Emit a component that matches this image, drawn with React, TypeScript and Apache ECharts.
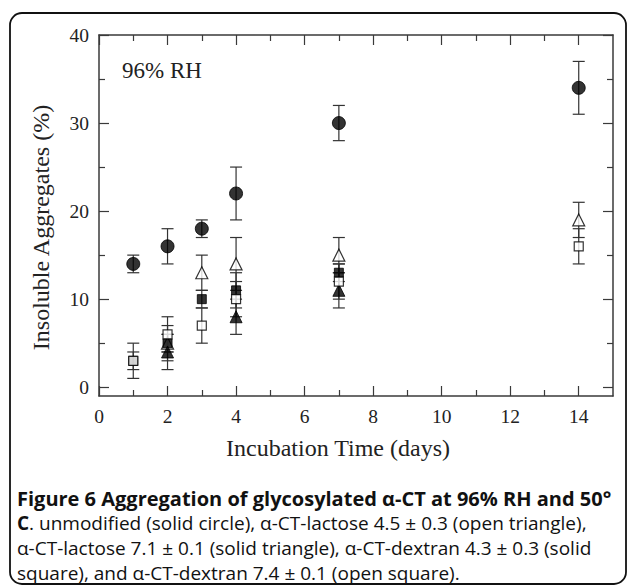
import React, { useEffect, useRef } from "react";
import * as echarts from "echarts";

// ---- data ----
const days = [1, 2, 3, 4, 7, 14];

const unmodified = [14, 16, 18, 22, 30, 34];
const unmodifiedErr = [1, 2, 1, 3, 2, 3];

const lactose45 = [null, 5, 13, 14, 15, 19];
const lactose45Err = [null, 2, 2, 3, 2, 2];

const lactose71 = [null, 4, null, 8, 11, null];
const lactose71Err = [null, 2, null, 2, 2, null];

const dextran43 = [3, 5, 10, 11, 13, null];
const dextran43Err = [1, 1, 1, 2, 1, null];

const dextran74 = [3, 6, 7, 10, 12, 16];
const dextran74Err = [2, 2, 2, 2, 2, 2];

const xMajorTicks = [0, 2, 4, 6, 8, 10, 12, 14];
const xMinorTicks = [1, 3, 5, 7, 9, 11, 13];
const yMajorTicks = [0, 10, 20, 30, 40];
const yMinorTicks = [5, 15, 25, 35];

const SERIF = "'Liberation Serif', 'Times New Roman', serif";
const SANS = "'Open Sans', 'Noto Sans', sans-serif";
const AX = "#3a3a3a";

type Sym = { name: string; vals: (number | null)[]; errs: (number | null)[]; symbol: string; size: number; filled: boolean };

const seriesDefs: Sym[] = [
  { name: "unmodified", vals: unmodified, errs: unmodifiedErr, symbol: "circle", size: 13, filled: true },
  { name: "α-CT-lactose 4.5", vals: lactose45, errs: lactose45Err, symbol: "triangle", size: 12, filled: false },
  { name: "α-CT-lactose 7.1", vals: lactose71, errs: lactose71Err, symbol: "triangle", size: 12, filled: true },
  { name: "α-CT-dextran 4.3", vals: dextran43, errs: dextran43Err, symbol: "rect", size: 9, filled: true },
  { name: "α-CT-dextran 7.4", vals: dextran74, errs: dextran74Err, symbol: "rect", size: 9, filled: false },
];

function errRender(params: any, api: any) {
  const x = api.value(0);
  const lo = api.value(1);
  const hi = api.value(2);
  const t = api.coord([x, hi]);
  const b = api.coord([x, lo]);
  const w = 6;
  const style = { stroke: "#333", lineWidth: 1.2 };
  return {
    type: "group",
    children: [
      { type: "line", shape: { x1: t[0], y1: t[1], x2: b[0], y2: b[1] }, style },
      { type: "line", shape: { x1: t[0] - w, y1: t[1], x2: t[0] + w, y2: t[1] }, style },
      { type: "line", shape: { x1: b[0] - w, y1: b[1], x2: b[0] + w, y2: b[1] }, style },
    ],
  };
}

function makeXAxis(position: string, ticks: number[], len: number, showLine: boolean, labels: boolean, name?: string) {
  return {
    type: "value",
    min: 0,
    max: 15,
    position,
    name: name || "",
    nameLocation: "middle",
    nameGap: 40,
    nameTextStyle: { fontFamily: SERIF, fontSize: 24, color: "#222", padding: [0, 36, 0, 0] },
    axisLine: { show: showLine, onZero: false, lineStyle: { color: AX, width: 1.5 } },
    axisTick: { show: true, inside: true, length: len, customValues: ticks, lineStyle: { color: AX, width: 1.2 } },
    axisLabel: labels
      ? { show: true, customValues: ticks, margin: 10, fontFamily: SERIF, fontSize: 19.5, color: "#222" }
      : { show: false },
    splitLine: { show: false },
  };
}

function makeYAxis(position: string, ticks: number[], len: number, showLine: boolean, labels: boolean, name?: string) {
  return {
    type: "value",
    min: -1,
    max: 40,
    position,
    name: name || "",
    nameLocation: "middle",
    nameGap: 46,
    nameTextStyle: { fontFamily: SERIF, fontSize: 24, color: "#222", padding: [0, 24, 0, 0] },
    axisLine: { show: showLine, onZero: false, lineStyle: { color: AX, width: 1.5 } },
    axisTick: { show: true, inside: true, length: len, customValues: ticks, lineStyle: { color: AX, width: 1.2 } },
    axisLabel: labels
      ? { show: true, customValues: ticks, margin: 10, fontFamily: SERIF, fontSize: 19.5, color: "#222" }
      : { show: false },
    splitLine: { show: false },
  };
}

export default function App() {
  const ref = useRef<HTMLDivElement>(null);
  useEffect(() => {
    if (!ref.current) return;
    const chart = echarts.init(ref.current, null, { renderer: "svg" });

    const series: any[] = [];
    seriesDefs.forEach((s) => {
      const errData: any[] = [];
      s.vals.forEach((v, i) => {
        const e = s.errs[i];
        if (v != null && e != null) errData.push([days[i], v - e, v + e]);
      });
      series.push({
        type: "custom",
        name: s.name + " error",
        renderItem: errRender,
        encode: { x: 0, y: [1, 2] },
        data: errData,
        z: 2,
        silent: true,
      });
    });
    seriesDefs.forEach((s) => {
      const pts: any[] = [];
      s.vals.forEach((v, i) => {
        if (v != null) pts.push([days[i], v]);
      });
      series.push({
        type: "scatter",
        name: s.name,
        data: pts,
        symbol: s.symbol,
        symbolSize: s.size,
        itemStyle: s.filled
          ? { color: "#000", borderColor: "#000", borderWidth: 1 }
          : { color: "#fff", borderColor: "#000", borderWidth: 1.2 },
        z: 5,
      });
    });

    chart.setOption({
      animation: false,
      backgroundColor: "#fff",
      grid: { left: 99, top: 35, right: 17, bottom: 192, containLabel: false },
      xAxis: [
        makeXAxis("bottom", xMajorTicks, 10, true, true, "Incubation Time (days)"),
        makeXAxis("bottom", xMinorTicks, 6, false, false),
        makeXAxis("top", xMajorTicks, 10, true, false),
        makeXAxis("top", xMinorTicks, 6, false, false),
      ],
      yAxis: [
        makeYAxis("left", yMajorTicks, 10, true, true, "Insoluble Aggregates (%)"),
        makeYAxis("left", yMinorTicks, 6, false, false),
        makeYAxis("right", yMajorTicks, 10, true, false),
        makeYAxis("right", yMinorTicks, 6, false, false),
      ],
      series,
      graphic: [
        {
          type: "rect",
          shape: { x: 10, y: 13, width: 616, height: 571, r: 12 },
          style: { fill: "none", stroke: "#111", lineWidth: 1.8 },
          silent: true,
        },
        {
          type: "text",
          left: 122,
          top: 59,
          style: { text: "96% RH", fontFamily: SERIF, fontSize: 23, fill: "#222" },
        },
        {
          type: "text",
          left: 17,
          top: 488,
          style: {
            text:
              "{t|Figure 6 Aggregation of glycosylated α-CT at 96% RH and 50°}\n" +
              "{b|C}{r|. unmodified (solid circle), α-CT-lactose 4.5 ± 0.3 (open triangle),}\n" +
              "{r|α-CT-lactose 7.1 ± 0.1 (solid triangle), α-CT-dextran 4.3 ± 0.3 (solid}\n" +
              "{r|square), and α-CT-dextran 7.4 ± 0.1 (open square).}",
            rich: {
              t: { fontFamily: SANS, fontSize: 20, fontWeight: "bold", fill: "#111", lineHeight: 25 },
              b: { fontFamily: SANS, fontSize: 19, fontWeight: "bold", fill: "#111", lineHeight: 25 },
              r: { fontFamily: SANS, fontSize: 19, fill: "#111", lineHeight: 25 },
            },
          },
        },
      ],
    });
    return () => chart.dispose();
  }, []);
  return <div ref={ref} style={{ position: "fixed", left: 0, top: 0, width: 630, height: 588 }} />;
}
